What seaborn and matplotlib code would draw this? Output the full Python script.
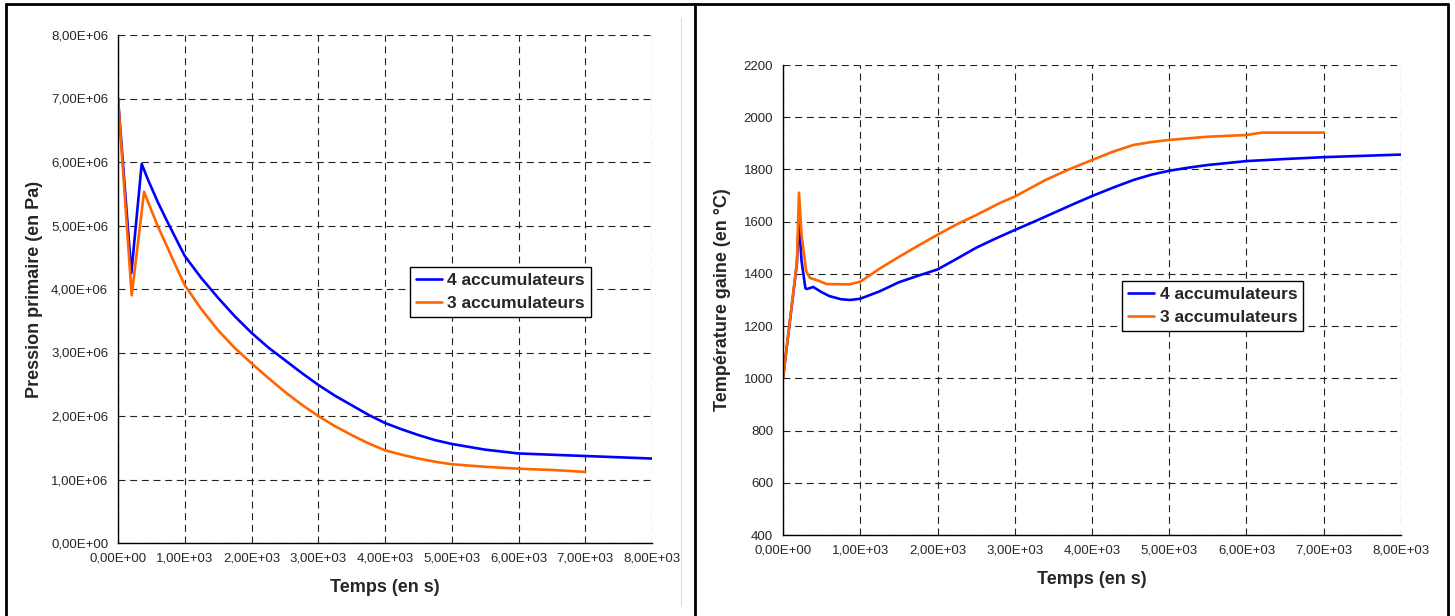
import seaborn as sns
import pandas as pd
import matplotlib.pyplot as plt
from matplotlib.lines import Line2D
from matplotlib.ticker import FuncFormatter, MultipleLocator

# Pression primaire (Pa) vs temps (s)
t_p4 = [0, 200, 355, 450, 600, 730, 850, 1000, 1250, 1500, 1750, 2000, 2250, 2500, 2750, 3000,
        3250, 3500, 3750, 4000, 4250, 4500, 4750, 5000, 5500, 6000, 6500, 7000, 7500, 8000]
p4 = [7.0e6, 4.25e6, 5.97e6, 5.72e6, 5.36e6, 5.08e6, 4.83e6, 4.52e6, 4.17e6, 3.86e6, 3.57e6, 3.31e6,
      3.08e6, 2.88e6, 2.68e6, 2.49e6, 2.32e6, 2.17e6, 2.02e6, 1.89e6, 1.79e6, 1.70e6, 1.62e6,
      1.56e6, 1.47e6, 1.41e6, 1.39e6, 1.37e6, 1.35e6, 1.33e6]
t_p3 = [0, 205, 390, 500, 600, 730, 850, 1000, 1250, 1500, 1750, 2000, 2250, 2500, 2750, 3000,
        3250, 3500, 3750, 4000, 4250, 4500, 4750, 5000, 5500, 6000, 6500, 7000]
p3 = [7.0e6, 3.90e6, 5.53e6, 5.24e6, 4.98e6, 4.68e6, 4.40e6, 4.06e6, 3.68e6, 3.35e6, 3.07e6, 2.83e6,
      2.60e6, 2.38e6, 2.18e6, 2.00e6, 1.84e6, 1.70e6, 1.57e6, 1.46e6, 1.39e6, 1.33e6, 1.28e6,
      1.24e6, 1.20e6, 1.17e6, 1.15e6, 1.12e6]

# Temperature gaine (C) vs temps (s)
t_g4 = [0, 180, 205, 240, 290, 310, 390, 500, 600, 750, 870, 1000, 1250, 1500, 1750, 2000, 2250,
        2500, 2750, 3000, 3250, 3500, 3750, 4000, 4270, 4540, 4770, 5000, 5250, 5500, 6000, 6500,
        7000, 7500, 8000]
g4 = [1000, 1440, 1606, 1450, 1345, 1342, 1350, 1330, 1315, 1303, 1300, 1305, 1333, 1368, 1393,
      1417, 1458, 1500, 1535, 1568, 1600, 1633, 1666, 1698, 1730, 1760, 1780, 1795, 1807, 1817,
      1832, 1840, 1847, 1852, 1857]
t_g3 = [0, 180, 207, 240, 300, 350, 450, 565, 860, 1000, 1250, 1500, 1750, 2000, 2250, 2500, 2810,
        3000, 3200, 3400, 3700, 4000, 4270, 4540, 4770, 5000, 5480, 6000, 6200, 7000]
g3 = [1000, 1445, 1711, 1550, 1410, 1384, 1375, 1361, 1360, 1370, 1420, 1465, 1508, 1550, 1590,
      1625, 1672, 1696, 1728, 1760, 1800, 1836, 1868, 1894, 1905, 1913, 1925, 1932, 1941, 1941]

series = ["4 accumulateurs", "3 accumulateurs"]
colors = {"4 accumulateurs": "#0000FF", "3 accumulateurs": "#FF6600"}

df_p = pd.concat([
    pd.DataFrame({"t": t_p4, "v": p4, "serie": series[0]}),
    pd.DataFrame({"t": t_p3, "v": p3, "serie": series[1]}),
])
df_g = pd.concat([
    pd.DataFrame({"t": t_g4, "v": g4, "serie": series[0]}),
    pd.DataFrame({"t": t_g3, "v": g3, "serie": series[1]}),
])

sns.set_style("white")
plt.rcParams["font.family"] = ["Liberation Sans", "DejaVu Sans"]

fig = plt.figure(figsize=(14.55, 6.16), dpi=100)
W, H = 1455, 616
ax1 = fig.add_axes([118 / W, 1 - 543 / H, 534 / W, 508 / H])
ax2 = fig.add_axes([783 / W, 1 - 535 / H, 618 / W, 470 / H])


def sci_fmt(v, pos):
    return f"{v:.2E}".replace(".", ",")


for ax, df in [(ax1, df_p), (ax2, df_g)]:
    sns.lineplot(data=df, x="t", y="v", hue="serie", hue_order=series, palette=colors,
                 sort=False, estimator=None, linewidth=1.9, ax=ax)
    ax.set_xlim(0, 8000)
    ax.xaxis.set_major_locator(MultipleLocator(1000))
    ax.xaxis.set_major_formatter(FuncFormatter(sci_fmt))
    ax.grid(True, color="#222222", linewidth=0.8, linestyle=(0, (6.3, 4.2)))
    ax.set_axisbelow(True)
    for s in ["top", "right"]:
        ax.spines[s].set_visible(False)
    for s in ["left", "bottom"]:
        ax.spines[s].set_color("black")
        ax.spines[s].set_linewidth(1.0)
    ax.tick_params(axis="both", direction="out", length=4, width=0.8, color="black",
                   labelsize=9.5, pad=3)
    ax.set_xlabel("Temps (en s)", fontsize=13, fontweight="bold", labelpad=10)
    h, l = ax.get_legend_handles_labels()
    ax.legend(h, l, prop={"weight": "bold", "size": 12.5}, frameon=True,
              fancybox=False, edgecolor="black", framealpha=1, borderpad=0.35,
              handlelength=1.5, handletextpad=0.3, labelspacing=0.45, borderaxespad=0,
              loc="upper left",
              bbox_to_anchor=(0.547, 0.543) if ax is ax1 else (0.549, 0.540))
    ax.get_legend().get_frame().set_linewidth(1.0)

ax1.set_ylim(0, 8e6)
ax1.yaxis.set_major_locator(MultipleLocator(1e6))
ax1.yaxis.set_major_formatter(FuncFormatter(sci_fmt))
ax1.set_ylabel("Pression primaire (en Pa)", fontsize=13, fontweight="bold", labelpad=6)

ax2.set_ylim(400, 2200)
ax2.yaxis.set_major_locator(MultipleLocator(200))
ax2.set_ylabel("Température gaine (en °C)", fontsize=13, fontweight="bold", labelpad=9)

# cadres du document
for xs, ys, c, lw in [
    ([6 / W, 1448 / W], [1 - 4 / H, 1 - 4 / H], "black", 2.0),
    ([6 / W, 6 / W], [0, 1 - 4 / H], "black", 2.0),
    ([695 / W, 695 / W], [0, 1 - 4 / H], "black", 2.0),
    ([1448 / W, 1448 / W], [0, 1 - 4 / H], "black", 2.0),
    ([681 / W, 681 / W], [1 - 606 / H, 1 - 18 / H], "#dddddd", 0.8),
]:
    fig.add_artist(Line2D(xs, ys, color=c, linewidth=lw, transform=fig.transFigure))

fig.savefig("out.png", dpi=100)
plt.close()
